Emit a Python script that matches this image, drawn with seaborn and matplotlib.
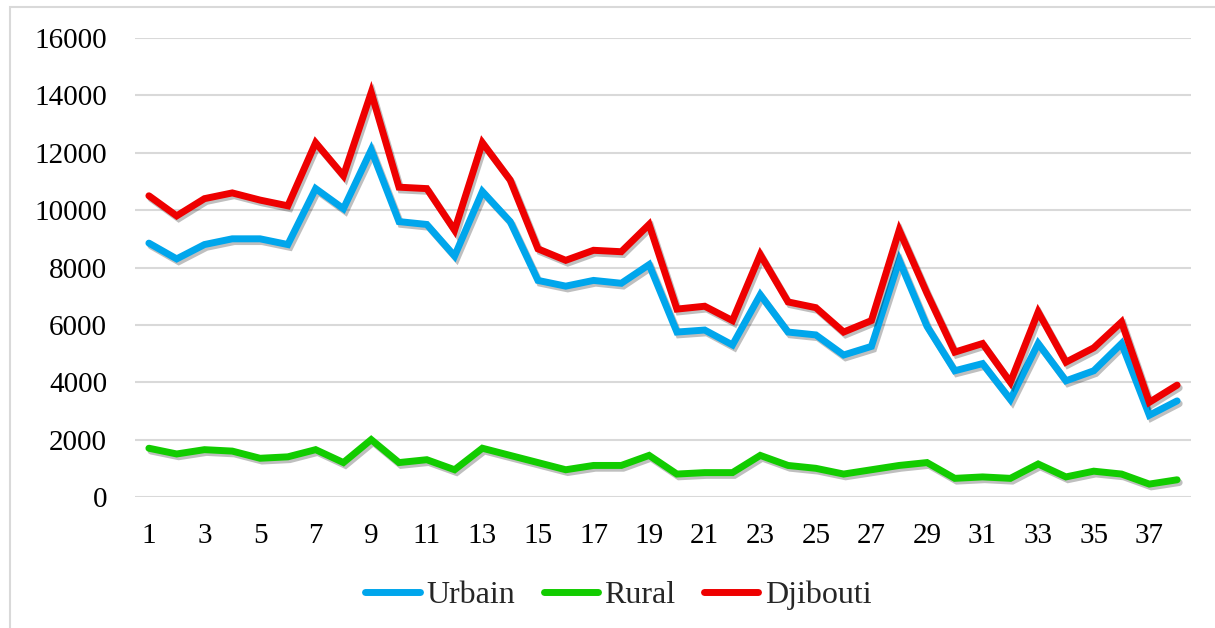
import pandas as pd
import matplotlib
matplotlib.use("Agg")
import matplotlib.pyplot as plt
import matplotlib.patheffects as pe
from matplotlib.patches import Rectangle
import seaborn as sns

ages = list(range(1, 39))

urbain = [8850, 8300, 8800, 9000, 9000, 8800, 10750, 10050, 12100, 9600,
          9500, 8400, 10650, 9600, 7550, 7350, 7550, 7450, 8100, 5750,
          5820, 5300, 7050, 5750, 5650, 4950, 5250, 8250, 5950, 4400,
          4650, 3400, 5350, 4050, 4400, 5350, 2850, 3350]

rural = [1700, 1500, 1650, 1600, 1350, 1400, 1650, 1200, 2000, 1200,
         1300, 950, 1700, 1450, 1200, 950, 1100, 1100, 1450, 800,
         850, 850, 1450, 1100, 1000, 800, 950, 1100, 1200, 650,
         700, 650, 1150, 700, 900, 800, 450, 600]

djibouti = [10500, 9800, 10400, 10600, 10350, 10150, 12350, 11200, 14100, 10800,
            10750, 9300, 12350, 11050, 8650, 8250, 8600, 8550, 9500, 6550,
            6650, 6150, 8450, 6800, 6600, 5750, 6150, 9300, 7100, 5050,
            5350, 4000, 6450, 4700, 5200, 6100, 3300, 3900]

series_names = ["Urbain", "Rural", "Djibouti"]
colors = {"Urbain": "#00A6EC", "Rural": "#12CC00", "Djibouti": "#EE0000"}

df = pd.concat([
    pd.DataFrame({"age": ages, "value": urbain, "zone": "Urbain"}),
    pd.DataFrame({"age": ages, "value": rural, "zone": "Rural"}),
    pd.DataFrame({"age": ages, "value": djibouti, "zone": "Djibouti"}),
])

sns.set_style("white")
plt.rcParams["font.family"] = ["Liberation Serif", "DejaVu Serif"]

fig = plt.figure(figsize=(12.15, 6.28), dpi=100)
ax = fig.add_axes([135 / 1215, 1 - 497 / 628, (1191 - 135) / 1215, (497 - 38) / 628])

sns.lineplot(data=df, x="age", y="value", hue="zone", hue_order=series_names,
             palette=colors, linewidth=5, ax=ax, legend=False)

shadow = [pe.SimpleLineShadow(offset=(1.5, -2), shadow_color="black", alpha=0.25),
          pe.Normal()]
for ln in ax.lines:
    ln.set_path_effects(shadow)
    ln.set_solid_joinstyle("miter")
    ln.set_solid_capstyle("round")

ax.set_xlim(0.5, 38.5)
ax.set_ylim(0, 16000)
ax.set_xticks(range(1, 39, 2))
ax.set_yticks(range(0, 16001, 2000))
ax.set_xlabel("")
ax.set_ylabel("")
ax.grid(axis="y", color="#D9D9D9", linewidth=1.5)
ax.set_axisbelow(True)
for s in ax.spines.values():
    s.set_visible(False)
ax.tick_params(axis="both", length=0, labelsize=21, colors="black")
ax.tick_params(axis="x", pad=19)
ax.tick_params(axis="y", pad=20)

handles = [plt.Line2D([], [], color=colors[n], linewidth=5, solid_capstyle="round")
           for n in series_names]
fig.legend(handles, series_names, loc="center", bbox_to_anchor=(0.509, 1 - 595 / 628),
           ncol=3, frameon=False, fontsize=23, handlelength=1.7,
           handletextpad=0.2, columnspacing=0.9)

# outer chart frame
fig.patches.append(Rectangle((10 / 1215, -0.2), 1.2, 1.2 - 7 / 628,
                             transform=fig.transFigure, fill=False,
                             edgecolor="#D9D9D9", linewidth=1.5))

fig.savefig("out.png", dpi=100)
